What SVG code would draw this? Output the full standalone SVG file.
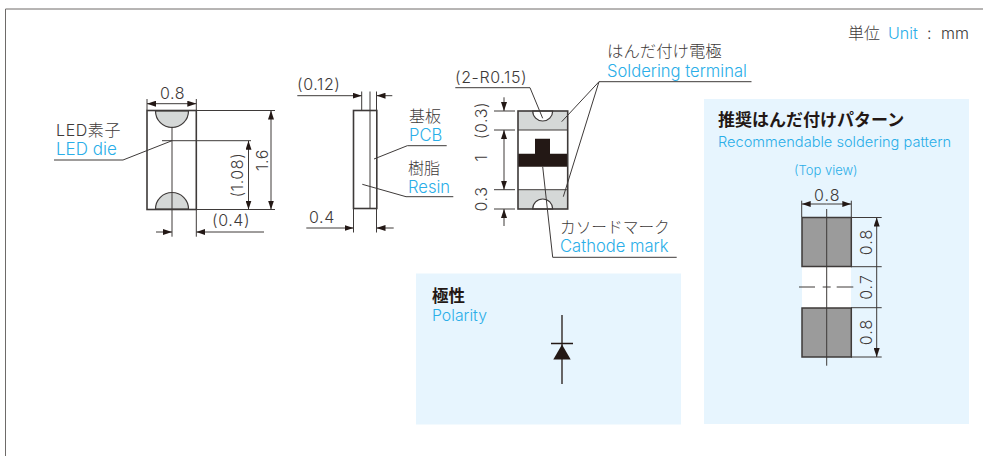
<svg xmlns="http://www.w3.org/2000/svg" width="983" height="456" viewBox="0 0 983 456">
<style>
text{font-family:"Inter","Noto Sans CJK JP",sans-serif;font-weight:300;fill:#3e3a39;font-size:16px;letter-spacing:.6px}
.jp{font-family:"Noto Sans CJK JP",sans-serif;font-weight:300;font-size:16px;letter-spacing:0}
.b{font-family:"Noto Sans CJK JP",sans-serif;font-weight:700;font-size:17px;fill:#231815;letter-spacing:0}
.en{font-family:"Inter","Liberation Sans",sans-serif;font-weight:300;fill:#2aaee8;font-size:16.600px;letter-spacing:0}
.l{stroke:#3e3a39;stroke-width:1;fill:none}
.o{stroke:#3e3a39;stroke-width:1.600;fill:none}
.a{stroke:#3e3a39;stroke-width:1;fill:none;marker-end:url(#ah)}
.panel{fill:#e7f5fe}
</style>
<defs>
<marker id="ah" markerUnits="userSpaceOnUse" viewBox="0 0 9 6" refX="9" refY="3" markerWidth="9" markerHeight="6" orient="auto"><path d="M0 0L9 3L0 6Z" fill="#231815"/></marker>
</defs>
<rect width="983" height="456" fill="#fff"/>
<path d="M5.500 456V9H983" fill="none" stroke="#6e6b69" stroke-width="1"/>
<g id="panels">
<rect class="panel" x="416" y="273.500" width="265" height="151"/>
<rect class="panel" x="704" y="99" width="265" height="325"/>
</g>
<g id="unit">
<text class="jp" x="848" y="38.500">単位</text><text class="en" x="888" y="38.500" style="font-size:16px">Unit</text><text x="927" y="38.500">:</text><text x="941" y="38.500" style="letter-spacing:0">mm</text>
</g>
<g id="top-view">
<path d="M155.500 111A16.500 16.500 0 0 0 188.500 111Z" fill="#d5d8d7" stroke="#3e3a39" stroke-width="1.200"/>
<path d="M155.500 209A16.500 16.500 0 0 1 188.500 209Z" fill="#d5d8d7" stroke="#3e3a39" stroke-width="1.200"/>
<rect class="o" x="147" y="110.500" width="49.300" height="99"/>
<text x="160" y="98.500">0.8</text>
<text x="56" y="136">LED素子</text><text class="en" x="56" y="155" style="font-size:17px">LED die</text>
<text x="212" y="226">(0.4)</text>
<text transform="translate(243 175) rotate(-90)" text-anchor="middle">(1.08)</text>
<text transform="translate(268 160) rotate(-90)" text-anchor="middle">1.6</text>
</g>
<g id="side-view">
<rect class="o" x="353.500" y="110.500" width="23.300" height="98"/>
<path class="l" d="M370 91.500V208.500"/>
<text x="297" y="90">(0.12)</text>
<text x="309" y="223">0.4</text>
<text class="jp" x="409" y="122">基板</text><text class="en" x="409" y="141">PCB</text>
<text class="jp" x="408" y="173.500">樹脂</text><text class="en" x="408" y="193">Resin</text>
</g>
<g id="front-view">
<rect x="518" y="111" width="49.500" height="19" fill="#d5d8d7"/>
<rect x="518" y="190" width="49.500" height="19" fill="#d5d8d7"/>
<path class="l" d="M518 130H567.500M518 189.700H567.500"/>
<path d="M532.700 111A10 10 0 0 0 552.700 111Z" fill="#fff" stroke="#3e3a39" stroke-width="1.200"/>
<path d="M532.700 209A10 10 0 0 1 552.700 209Z" fill="#fff" stroke="#3e3a39" stroke-width="1.200"/>
<path d="M518 153.700H535V138.700H550V153.700H567.700V166.700H518Z" fill="#231815"/>
<rect class="o" x="518" y="111" width="49.700" height="98"/>
<text x="455" y="83">(2-R0.15)</text>
<text class="jp" x="607" y="57" style="font-size:16.400px">はんだ付け電極</text><text class="en" x="607" y="76.500">Soldering terminal</text>
<text class="jp" x="560" y="232.500" style="font-size:15.700px">カソードマーク</text><text class="en" x="560" y="252.200">Cathode mark</text>
<text transform="translate(487 120.500) rotate(-90)" text-anchor="middle">(0.3)</text>
<text transform="translate(487 158) rotate(-90)" text-anchor="middle">1</text>
<text transform="translate(487 199) rotate(-90)" text-anchor="middle">0.3</text>
</g>
<g id="polarity">
<text class="b" x="432" y="302" style="font-size:16.500px">極性</text><text class="en" x="432" y="321" style="font-size:15.800px">Polarity</text>
<path d="M562 315V384M551 343.500H573" stroke="#231815" stroke-width="1.300" fill="none"/>
<path d="M562 344.500L570.700 359.500H553.300Z" fill="#231815"/>
</g>
<g id="pattern">
<text class="b" x="718" y="126">推奨はんだ付けパターン</text><text class="en" x="718" y="147" style="font-size:14.600px">Recommendable soldering pattern</text>
<text class="en" x="794" y="175" style="font-size:13px">(Top view)</text>
<rect x="802" y="267" width="49" height="41" fill="#fff"/>
<rect x="802" y="217.500" width="49.300" height="49" fill="#9b9b9b" stroke="#3e3a39" stroke-width="1.500"/>
<rect x="802" y="308" width="49.300" height="49" fill="#9b9b9b" stroke="#3e3a39" stroke-width="1.500"/>
<text x="814" y="201" style="letter-spacing:1px">0.8</text>
<text transform="translate(872 242) rotate(-90)" text-anchor="middle" style="letter-spacing:1px">0.8</text>
<text transform="translate(872 287) rotate(-90)" text-anchor="middle" style="letter-spacing:1px">0.7</text>
<text transform="translate(872 332) rotate(-90)" text-anchor="middle" style="letter-spacing:1px">0.8</text>
</g>
<g id="connectors">
<path class="l" d="M147 99V110M196.300 99V110M196 110.500H275M162 140.700H251M172 126.700V236.700M196.300 209.500V236.700M196 209.500H275M54 160H123L172 140.700"/>
<path class="a" d="M172 103.700H147"/><path class="a" d="M172 103.700H196.300"/>
<path class="a" d="M271 160V110.500"/><path class="a" d="M271 160V209.500"/>
<path class="a" d="M248.500 175V140.700"/><path class="a" d="M248.500 175V209.500"/>
<path class="a" d="M156 232H172"/><path class="a" d="M264 232H196.300"/>
<path class="l" d="M361.700 91.500V110M376.500 91.500V110M353.500 208.500V232.500M376.500 208.500V232.500M374 159L407.300 145.700H446.700M362.300 184.300L406 196.700H453.300"/>
<path class="a" d="M297.300 95.700H361.700"/><path class="a" d="M392.300 95.700H376.500"/>
<path class="a" d="M306.300 228H353.500"/><path class="a" d="M393.700 228H376.500"/>
<path class="l" d="M494 111H515M494 130H515M494 189.700H515M494 209H515M455.300 87.700H530L542.700 118.300M751.500 81.700H599L561.700 121.700M599 81.700L563.300 196.700M542.700 166.700L552.700 257.300H676.700"/>
<path class="a" d="M504 97.300V111"/><path class="a" d="M504 160V130"/><path class="a" d="M504 160V189.700"/><path class="a" d="M504 226V209"/>
<path class="l" d="M801.700 200.700V217M851.300 200.700V217M826.700 209V365.700M851 217.500H881.700M851 266.700H881.700M851 307.700H881.700M851 357H881.700"/>
<path class="l" d="M799 287H815M822.700 287H830.700M836.700 287H853.300"/>
<path class="a" d="M826.500 204H801.700"/><path class="a" d="M826.500 204H851.300"/>
<path class="a" d="M876.700 287V217.500"/><path class="a" d="M876.700 287V357"/>
</g>
</svg>
